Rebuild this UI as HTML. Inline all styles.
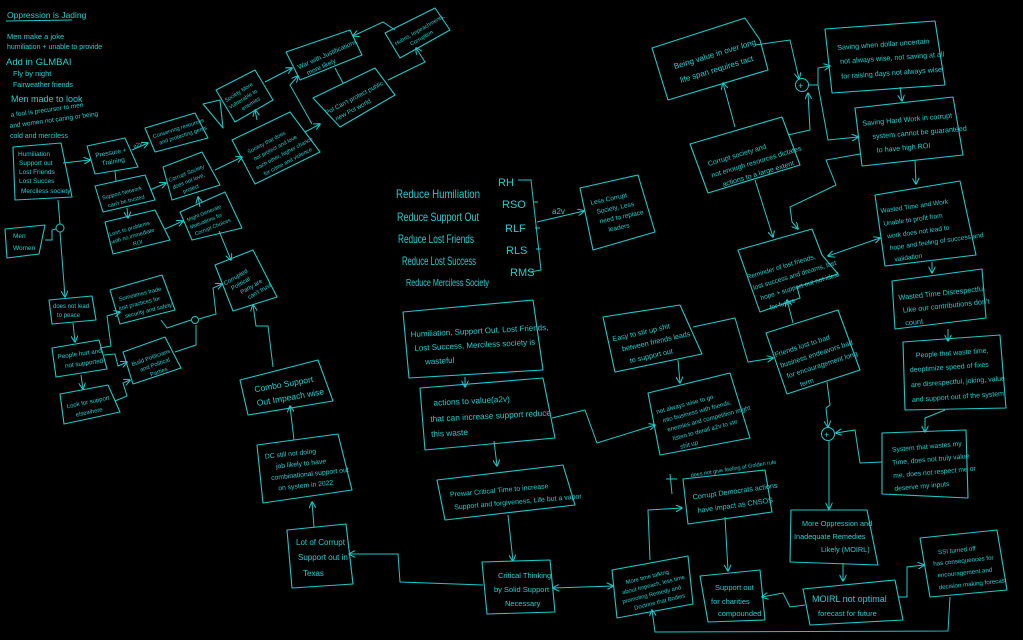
<!DOCTYPE html>
<html><head><meta charset="utf-8"><style>
html,body{margin:0;padding:0;background:#000;}
svg{display:block}
text{font-family:"Liberation Sans",sans-serif;fill:#1fd0d0;}
.b{fill:none;stroke:#1fc8c8;stroke-width:1.1;stroke-linejoin:round}
.l{fill:none;stroke:#1fc8c8;stroke-width:1;marker-end:url(#a)}
.n{fill:none;stroke:#1fc8c8;stroke-width:1}
</style></head><body>
<svg width="1023" height="640" viewBox="0 0 1023 640" xmlns="http://www.w3.org/2000/svg">
<defs><marker id="a" viewBox="0 0 10 10" refX="9" refY="5" markerWidth="7" markerHeight="7" orient="auto-start-reverse"><path d="M0,0 L10,5 L0,10" fill="none" stroke="#1fc8c8" stroke-width="1.5"/></marker></defs>
<rect width="1023" height="640" fill="#000"/>

<text x="7" y="18" font-size="8.5">Oppression is Jading</text>
<line class="n" x1="6" y1="21" x2="72" y2="20"/>
<text x="7" y="39" font-size="7.5">Men  make  a  joke</text>
<text x="7" y="49" font-size="7">humiliation + unable to provide</text>
<text x="6" y="65" font-size="9.5">Add in GLMBAI</text>
<text x="13" y="76" font-size="7.5">Fly by night</text>
<text x="13" y="87" font-size="7">Fairweather  friends</text>
<text x="11" y="102" font-size="9">Men made to look</text>
<text x="11" y="117" font-size="6.5" transform="rotate(-8 11 117)">a fool is precursor to men</text>
<text x="10" y="128" font-size="6.5" transform="rotate(-8 10 128)">and women not caring or being</text>
<text x="10" y="138" font-size="7">cold  and  merciless</text>

<polygon class="b" points="13,147 61,143 72,197 15,200"/>
<text font-size="6.5"><tspan x="18" y="156">Humiliation</tspan><tspan x="19" y="165">Support out</tspan><tspan x="19" y="174">Lost Friends</tspan><tspan x="19" y="183">Lost Succes</tspan><tspan x="21" y="193">Merciless society</tspan></text>
<polygon class="b" points="5,229 45,225 39,254 7,258"/>
<text font-size="6.5"><tspan x="13" y="238">Men</tspan><tspan x="13" y="250">Women</tspan></text>
<circle class="n" cx="60" cy="228" r="4"/>
<polygon class="b" points="87,146 125,138 138,167 95,174"/>
<text font-size="6.5" transform="rotate(-10 110 158)"><tspan x="96" y="155">Pressure +</tspan><tspan x="101" y="164">Training</tspan></text>
<polygon class="b" points="145,128 195,113 208,138 155,152"/>
<text font-size="5.5" transform="rotate(-18 176 133)"><tspan x="153" y="131">Conserving resources</tspan><tspan x="157" y="139">and protecting gems</tspan></text>
<text x="134" y="148" font-size="5.5" transform="rotate(-20 134 148)">a2v</text>
<polygon class="b" points="203,104 220,100 223,128"/>
<polygon class="b" points="95,186 145,175 155,200 103,212"/>
<text font-size="5.5" transform="rotate(-14 125 195)"><tspan x="102" y="194">Support Network</tspan><tspan x="106" y="203">can't be trusted</tspan></text>
<polygon class="b" points="105,222 155,210 170,240 113,254"/>
<text font-size="5.5" transform="rotate(-16 135 233)"><tspan x="110" y="229">Loss to problems</tspan><tspan x="110" y="237">with no immediate</tspan><tspan x="130" y="245">ROI</tspan></text>
<polygon class="b" points="163,167 202,152 220,185 172,200"/>
<text font-size="5.5" transform="rotate(-22 190 177)"><tspan x="169" y="174">Corrupt Society</tspan><tspan x="170" y="182">does not love,</tspan><tspan x="178" y="190">protect</tspan></text>
<polygon class="b" points="180,212 225,192 242,228 192,240"/>
<text font-size="5.3" transform="rotate(-22 210 218)"><tspan x="188" y="213">Might Generate</tspan><tspan x="188" y="221">Motivations for</tspan><tspan x="190" y="229">Corrupt Choices</tspan></text>
<polygon class="b" points="216,90 255,70 273,100 235,122"/>
<text font-size="5.5" transform="rotate(-32 244 97)"><tspan x="226" y="92">Society More</tspan><tspan x="226" y="100">Vulnerable to</tspan><tspan x="236" y="108">enemies</tspan></text>
<polygon class="b" points="232,140 290,112 320,152 255,184"/>
<text font-size="5.5" transform="rotate(-28 275 150)"><tspan x="250" y="141">Society that does</tspan><tspan x="252" y="150">not protect and love</tspan><tspan x="250" y="159">each other, higher chance</tspan><tspan x="254" y="168">for crime and violence</tspan></text>
<polygon class="b" points="286,52 350,30 362,55 300,80"/>
<text font-size="6.5" transform="rotate(-24 324 57)"><tspan x="296" y="58">War with Justifications</tspan><tspan x="302" y="67">more likely</tspan></text>
<polygon class="b" points="385,33 435,8 450,30 400,58"/>
<text font-size="5.5" transform="rotate(-30 416 34)"><tspan x="393" y="34">Hubris, Impeachments,</tspan><tspan x="406" y="42">Corruption</tspan></text>
<polygon class="b" points="313,98 375,68 395,95 340,127"/>
<text font-size="6.3" transform="rotate(-28 354 98)"><tspan x="322" y="100">Pol Can't protect public</tspan><tspan x="328" y="110">new Pol world</tspan></text>
<polygon class="b" points="215,265 253,250 277,297 233,311"/>
<text font-size="6" transform="rotate(-30 245 282)"><tspan x="226" y="275">Corrupted</tspan><tspan x="230" y="283">Political</tspan><tspan x="236" y="291">Party are</tspan><tspan x="240" y="299">can't trust</tspan></text>
<polygon class="b" points="49,300 92,296 96,320 52,324"/>
<text font-size="6"><tspan x="53" y="308">does not lead</tspan><tspan x="57" y="317">to peace</tspan></text>
<polygon class="b" points="110,290 162,275 175,310 120,324"/>
<text font-size="5.8" transform="rotate(-14 140 302)"><tspan x="120" y="296">Sometimes trade</tspan><tspan x="118" y="305">just practices for</tspan><tspan x="122" y="314">security and safety</tspan></text>
<polygon class="b" points="52,348 99,340 107,369 56,377"/>
<text font-size="6.3" transform="rotate(-8 78 358)"><tspan x="58" y="356">People hurt and</tspan><tspan x="64" y="366">not supported</tspan></text>
<polygon class="b" points="123,352 165,337 181,368 133,384"/>
<text font-size="5.8" transform="rotate(-20 150 362)"><tspan x="132" y="360">Build Politicians</tspan><tspan x="138" y="368">and Political</tspan><tspan x="146" y="376">Parties</tspan></text>
<polygon class="b" points="60,394 108,385 120,412 64,424"/>
<text font-size="6" transform="rotate(-12 88 405)"><tspan x="67" y="404">Look for support</tspan><tspan x="74" y="414">elsewhere</tspan></text>
<polygon class="b" points="240,380 318,360 333,401 248,415"/>
<text font-size="8.5" transform="rotate(-10 285 390)"><tspan x="255" y="387">Combo Support</tspan><tspan x="255" y="401">Out Impeach wise</tspan></text>
<polygon class="b" points="257,445 338,434 352,490 263,503"/>
<text font-size="6.8" transform="rotate(-6 300 465)"><tspan x="266" y="455">DC still not doing</tspan><tspan x="276" y="466">job likely to have</tspan><tspan x="270" y="477">combinational support out</tspan><tspan x="276" y="488">on system in 2022</tspan></text>
<polygon class="b" points="287,530 346,524 353,584 292,588"/>
<text font-size="8"><tspan x="296" y="545">Lot of Corrupt</tspan><tspan x="298" y="560">Support out in</tspan><tspan x="303" y="576">Texas</tspan></text>

<text font-size="12" lengthAdjust="spacingAndGlyphs"><tspan x="396" y="198" textLength="84" lengthAdjust="spacingAndGlyphs">Reduce Humiliation</tspan></text>
<text font-size="12"><tspan x="397" y="221" textLength="82" lengthAdjust="spacingAndGlyphs">Reduce Support Out</tspan></text>
<text font-size="12"><tspan x="398" y="243" textLength="76" lengthAdjust="spacingAndGlyphs">Reduce Lost Friends</tspan></text>
<text font-size="12"><tspan x="402" y="265" textLength="74" lengthAdjust="spacingAndGlyphs">Reduce Lost Success</tspan></text>
<text font-size="10"><tspan x="406" y="286" textLength="83" lengthAdjust="spacingAndGlyphs">Reduce  Merciless Society</tspan></text>
<text font-size="11"><tspan x="498" y="186">RH</tspan><tspan x="502" y="208">RSO</tspan><tspan x="505" y="232">RLF</tspan><tspan x="506" y="254">RLS</tspan><tspan x="510" y="276">RMS</tspan></text>
<polyline class="n" points="518,180 531,180 541,270 530,272"/>
<line class="n" x1="533" y1="202" x2="538" y2="202"/><line class="n" x1="535" y1="228" x2="540" y2="228"/><line class="n" x1="536" y1="249" x2="541" y2="249"/>
<line class="l" x1="537" y1="222" x2="584" y2="211"/>
<text x="552" y="214" font-size="8">a2v</text>
<polygon class="b" points="580,188 638,175 655,232 593,250"/>
<text font-size="6.5" transform="rotate(-12 615 212)"><tspan x="593" y="200">Less Corrupt</tspan><tspan x="597" y="210">Society, Less</tspan><tspan x="598" y="220">need to replace</tspan><tspan x="605" y="230">leaders</tspan></text>

<polygon class="b" points="403,312 533,300 543,370 409,378"/>
<text font-size="8" transform="rotate(-3 470 340)"><tspan x="411" y="334">Humiliation, Support Out, Lost Friends,</tspan><tspan x="414" y="348">Lost Success, Merciless  society is</tspan><tspan x="424" y="362">wasteful</tspan></text>
<polygon class="b" points="420,388 543,378 555,438 425,450"/>
<text font-size="8.3" transform="rotate(-3 485 412)"><tspan x="434" y="403">actions  to value(a2v)</tspan><tspan x="430" y="419">that  can  increase  support  reduce</tspan><tspan x="430" y="434">this  waste</tspan></text>
<polygon class="b" points="437,480 563,465 575,505 445,520"/>
<text font-size="7" transform="rotate(-5 505 492)"><tspan x="450" y="492">Prewar Critical Time to increase</tspan><tspan x="453" y="505">Support and forgiveness, Life but a vapor</tspan></text>
<polygon class="b" points="482,562 550,560 555,612 487,614"/>
<text font-size="7.5"><tspan x="498" y="578">Critical Thinking</tspan><tspan x="494" y="592">by Solid Support</tspan><tspan x="505" y="606">Necessary</tspan></text>

<polygon class="b" points="652,48 745,18 760,40 768,70 668,100"/>
<text font-size="8" transform="rotate(-17 705 62)"><tspan x="674" y="60">Being value in over long</tspan><tspan x="676" y="75">life span requires tact</tspan></text>
<circle class="n" cx="802" cy="85" r="6.5"/><text x="798" y="89" font-size="9">+</text>
<polygon class="b" points="690,144 782,117 800,165 708,193"/>
<text font-size="7" transform="rotate(-17 745 155)"><tspan x="707" y="155">Corrupt  society and</tspan><tspan x="707" y="167">not enough resources dictates</tspan><tspan x="715" y="179">actions  to a large extent</tspan></text>
<polygon class="b" points="825,29 935,21 945,85 832,93"/>
<text font-size="7.2" transform="rotate(-4 880 58)"><tspan x="838" y="47">Saving when dollar uncertain</tspan><tspan x="840" y="61">not always wise, not saving at all</tspan><tspan x="840" y="76">for raising days not always wise</tspan></text>
<polygon class="b" points="855,108 953,97 963,155 862,166"/>
<text font-size="7.2" transform="rotate(-5 905 130)"><tspan x="863" y="122">Saving Hard Work  in corrupt</tspan><tspan x="872" y="136">system  cannot be guaranteed</tspan><tspan x="875" y="150">to have high ROI</tspan></text>
<polygon class="b" points="875,195 960,181 976,255 885,266"/>
<text font-size="6.6" transform="rotate(-8 925 225)"><tspan x="883" y="207">Wasted Time and Work</tspan><tspan x="884" y="220">Unable to profit from</tspan><tspan x="886" y="233">work does not lead to</tspan><tspan x="887" y="245">hope and feeling of success and</tspan><tspan x="890" y="257">validation</tspan></text>
<polygon class="b" points="892,281 982,269 986,318 895,329"/>
<text font-size="7.3" transform="rotate(-6 937 300)"><tspan x="899" y="296">Wasted Time Disrespectful</tspan><tspan x="902" y="309">Like our contributions don't</tspan><tspan x="903" y="322">count</tspan></text>
<polygon class="b" points="903,342 1000,335 1006,408 905,410"/>
<text font-size="7" transform="rotate(-4 955 370)"><tspan x="917" y="355">People that waste time,</tspan><tspan x="910" y="369">deoptimize speed of fixes</tspan><tspan x="910" y="384">are disrespectful, joking, value</tspan><tspan x="910" y="399">and support out of the system</tspan></text>
<polygon class="b" points="882,433 966,430 968,498 882,494"/>
<text font-size="6.8" transform="rotate(-5 925 460)"><tspan x="893" y="449">System that wastes my</tspan><tspan x="892" y="462">Time, does not truly value</tspan><tspan x="892" y="475">me, does not respect me or</tspan><tspan x="892" y="488">deserve my inputs</tspan></text>
<polygon class="b" points="738,250 812,229 822,255 838,274 797,287 800,298 760,312"/>
<text font-size="6.6" transform="rotate(-17 785 272)"><tspan x="747" y="268">Reminder of lost friends,</tspan><tspan x="750" y="280">lost success and dreams, lost</tspan><tspan x="754" y="292">hope + support out not ideal</tspan><tspan x="760" y="304">for future</tspan></text>
<polygon class="b" points="603,317 680,305 702,354 615,372"/>
<text font-size="7.2" transform="rotate(-13 650 337)"><tspan x="613" y="333">Easy to stir up shit</tspan><tspan x="620" y="345">between  friends  leads</tspan><tspan x="625" y="358">to support out</tspan></text>
<polygon class="b" points="766,333 838,310 860,370 787,394"/>
<text font-size="7" transform="rotate(-18 810 350)"><tspan x="775" y="346">Friends lost to bad</tspan><tspan x="777" y="358">business endeavors bad</tspan><tspan x="780" y="370">for encouragement long</tspan><tspan x="790" y="382">term</tspan></text>
<polygon class="b" points="648,393 730,373 750,438 660,455"/>
<text font-size="6.2" transform="rotate(-15 695 413)"><tspan x="658" y="404">not always wise to go</tspan><tspan x="662" y="414">into business with friends,</tspan><tspan x="664" y="424">enemies and competition might</tspan><tspan x="667" y="434">listen to derail a2v to stir</tspan><tspan x="672" y="444">shit up</tspan></text>
<circle class="n" cx="828" cy="434" r="6.5"/><text x="824" y="438" font-size="9">+</text>
<polygon class="b" points="683,479 765,470 772,512 688,524"/>
<text font-size="7.2" transform="rotate(-8 725 497)"><tspan x="693" y="495">Corrupt Democrats actions</tspan><tspan x="696" y="509">have impact as CNSOS</tspan></text>
<text x="691" y="477" font-size="5.5" transform="rotate(-9 691 477)">does not give feeling of Golden rule</text>
<line class="n" x1="670" y1="474" x2="672" y2="494"/><line class="n" x1="666" y1="479" x2="677" y2="479"/>
<polygon class="b" points="612,570 688,556 693,604 617,618"/>
<text font-size="5.8" transform="rotate(-14 652 588)"><tspan x="628" y="578">More time talking</tspan><tspan x="622" y="587">about Impeach, less time</tspan><tspan x="620" y="596">promoting Remedy and</tspan><tspan x="630" y="605">Doctrine that Bodies</tspan></text>
<polygon class="b" points="700,576 760,570 765,620 708,622"/>
<text font-size="7.5"><tspan x="715" y="590">Support out</tspan><tspan x="711" y="604">for charities</tspan><tspan x="718" y="616">compounded</tspan></text>
<polygon class="b" points="791,510 867,510 878,565 790,562"/>
<text font-size="7.3"><tspan x="802" y="526">More Oppression and</tspan><tspan x="794" y="539">Inadequate Remedies</tspan><tspan x="821" y="552">Likely (MOIRL)</tspan></text>
<polygon class="b" points="803,589 895,580 903,620 810,625"/>
<text font-size="9"><tspan x="812" y="602">MOIRL not optimal</tspan><tspan x="818" y="616" font-size="7.5">forecast for future</tspan></text>
<polygon class="b" points="920,538 997,530 1007,590 930,597"/>
<text font-size="6.2" transform="rotate(-6 960 560)"><tspan x="939" y="552">SSI turned off</tspan><tspan x="933" y="563">has consequences for</tspan><tspan x="936" y="575">encouragement and</tspan><tspan x="936" y="587">decision making forecast</tspan></text>

<line class="l" x1="63" y1="163" x2="90" y2="160"/>
<polyline class="n" points="58,200 60,224"/>
<polyline class="l" points="60,232 65,297"/>
<polyline class="n" points="45,240 52,240 52,230 56,229"/>
<line class="l" x1="132" y1="150" x2="148" y2="143"/>
<line class="n" x1="115" y1="171" x2="116" y2="181"/>
<line class="l" x1="127" y1="208" x2="128" y2="218"/>
<line class="l" x1="150" y1="190" x2="166" y2="183"/>
<line class="l" x1="165" y1="229" x2="183" y2="221"/>
<line class="l" x1="200" y1="207" x2="198" y2="197"/>
<line class="l" x1="219" y1="231" x2="231" y2="260"/>
<line class="l" x1="215" y1="170" x2="242" y2="157"/>
<line class="l" x1="257" y1="120" x2="255" y2="110"/>
<line class="l" x1="265" y1="82" x2="292" y2="68"/>
<line class="l" x1="305" y1="132" x2="320" y2="124"/>
<polyline class="l" points="312,124 290,85 298,76"/>
<line class="n" x1="343" y1="83" x2="335" y2="68"/>
<polyline class="l" points="388,80 425,62 416,48"/>
<polyline class="l" points="395,30 383,22 353,36"/>
<line class="l" x1="73" y1="323" x2="75" y2="342"/>
<polyline class="l" points="100,348 111,346 107,316 120,312"/>
<polyline class="l" points="104,355 115,354 118,366 127,362"/>
<line class="l" x1="81" y1="375" x2="83" y2="389"/>
<polyline class="l" points="115,401 127,396 123,383 130,380"/>
<polyline class="n" points="161,320 167,328 191,320"/>
<circle class="n" cx="195" cy="320" r="3.5"/>
<polyline class="n" points="175,352 196,345 196,325"/>
<polyline class="l" points="199,319 216,314 213,288 222,284"/>
<polyline class="l" points="273,367 268,326 256,326 253,305"/>
<line class="l" x1="294" y1="440" x2="290" y2="406"/>
<line class="l" x1="314" y1="527" x2="312" y2="502"/>
<polyline class="l" points="483,585 400,582 398,554 349,554"/>
<line class="l" x1="465" y1="377" x2="465" y2="387"/>
<line class="l" x1="494" y1="441" x2="497" y2="466"/>
<polyline class="l" points="552,418 585,410 597,443 655,425"/>
<line class="l" x1="508" y1="515" x2="513" y2="561"/>
<line class="l" x1="553" y1="588" x2="613" y2="586" marker-start="url(#a)"/>
<polyline class="l" points="650,560 648,510 682,508"/>
<line class="l" x1="725" y1="517" x2="728" y2="571"/>
<polyline class="l" points="805,605 790,607 783,593 762,597"/>
<line class="l" x1="843" y1="563" x2="843" y2="581"/>
<polyline class="l" points="898,597 907,597 907,567 924,565"/>
<polyline class="l" points="950,597 948,631 655,632 652,610"/>
<line class="l" x1="829" y1="441" x2="829" y2="509"/>
<polyline class="l" points="827,382 830,405 826,408 828,427"/>
<polyline class="l" points="882,462 860,463 855,430 836,433"/>
<polyline class="l" points="945,410 925,418 925,432"/>
<line class="l" x1="948" y1="329" x2="948" y2="341"/>
<line class="l" x1="932" y1="262" x2="932" y2="273"/>
<line class="l" x1="828" y1="256" x2="880" y2="238" marker-start="url(#a)"/>
<line class="l" x1="915" y1="160" x2="916" y2="184"/>
<line class="l" x1="900" y1="87" x2="902" y2="101"/>
<polyline class="l" points="860,154 826,160 836,185 790,207 792,222 798,229"/>
<line class="l" x1="755" y1="180" x2="773" y2="237"/>
<line class="l" x1="735" y1="127" x2="723" y2="83"/>
<polyline class="l" points="788,135 810,130 808,93"/>
<polyline class="l" points="755,45 790,40 799,79"/>
<polyline class="l" points="809,85 818,85 818,68 830,66"/>
<polyline class="l" points="818,85 828,140 858,137"/>
<polyline class="l" points="693,327 735,318 748,362 773,358"/>
<line class="l" x1="678" y1="360" x2="680" y2="383"/>
<line class="l" x1="793" y1="323" x2="787" y2="300"/>
</svg>
</body></html>
